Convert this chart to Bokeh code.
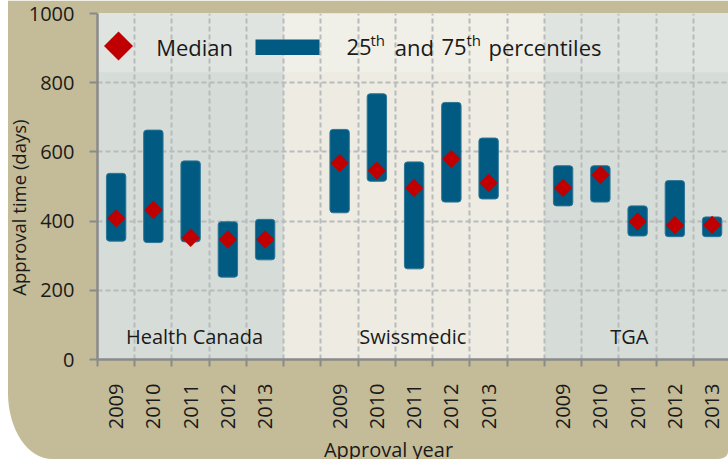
import numpy as np
from bokeh.plotting import figure
from bokeh.models import FixedTicker, BoxAnnotation, Label, Range1d, ColumnDataSource
from bokeh.embed import file_html
from bokeh.resources import INLINE

# ---------------- data ----------------
years = ["2009", "2010", "2011", "2012", "2013"]
regulators = ["Health Canada", "Swissmedic", "TGA"]

hc_median = [408, 432, 352, 347, 347]
hc_p25 = [342, 338, 340, 238, 288]
hc_p75 = [538, 663, 574, 398, 405]

sm_median = [568, 546, 496, 580, 510]
sm_p25 = [424, 515, 262, 455, 464]
sm_p75 = [665, 768, 571, 743, 640]

tga_median = [496, 533, 399, 388, 389]
tga_p25 = [444, 455, 357, 355, 355]
tga_p75 = [560, 560, 444, 517, 412]

y_ticks = [0, 200, 400, 600, 800, 1000]

# ---------------- layout ----------------
FONT = "Open Sans"
KHAKI = "#c4bc98"
BEIGE = "#eeece2"
BLUEGRAY = "#d6ddd9"
BAR = "#005a82"
RED = "#c00000"
TXT = "#1a1a1a"

group_offsets = [0, 6, 12]          # slot index of each regulator's first year
n_slots_visible = 16.94

xs, med, lo, hi = [], [], [], []
for off, m, a, b in zip(group_offsets,
                        [hc_median, sm_median, tga_median],
                        [hc_p25, sm_p25, tga_p25],
                        [hc_p75, sm_p75, tga_p75]):
    for i in range(len(years)):
        xs.append(off + i)
        med.append(m[i])
        lo.append(a[i])
        hi.append(b[i])
src = ColumnDataSource(dict(x=xs, median=med, p25=lo, p75=hi))

p = figure(width=728, height=459,
           x_range=Range1d(-0.5, -0.5 + n_slots_visible), y_range=Range1d(0, 1000),
           output_backend="svg", toolbar_location=None,
           min_border_left=97, min_border_right=0, min_border_top=13, min_border_bottom=99)
p.styles = {"clip-path": "inset(0 0 0 8px round 0 0 10px 44px / 0 0 7px 66px)"}
p.border_fill_color = KHAKI
p.background_fill_color = BEIGE
p.outline_line_color = None

# regulator background bands
band_spans = [(-0.5, 4.5, BLUEGRAY), (11.5, 30, BLUEGRAY)]
for l, r, c in band_spans:
    p.add_layout(BoxAnnotation(left=l, right=r, fill_color=c, fill_alpha=1.0,
                               line_color=None, level="image"))
# light legend band
p.add_layout(BoxAnnotation(bottom=830, fill_color="white", fill_alpha=0.22,
                           line_color=None, level="image"))

# bars and medians
p.vbar(x="x", width=0.52, bottom="p25", top="p75", source=src,
       fill_color=BAR, line_color="#2d7696", line_width=1, border_radius=3)
p.scatter(x="x", y="median", source=src, marker="square", angle=np.pi / 4,
          size=13, fill_color=RED, line_color=None)

# ---------------- axes ----------------
centers = xs
boundaries = [k - 0.5 for k in range(0, 18)]
p.xaxis.ticker = FixedTicker(ticks=centers, minor_ticks=boundaries)
p.xaxis.major_label_overrides = {x: years[i % 5] for i, x in enumerate(centers)}
p.xaxis.major_label_orientation = np.pi / 2
p.xaxis.major_tick_line_color = None
p.xaxis.major_tick_out = 0
p.xaxis.major_tick_in = 0
p.xaxis.minor_tick_out = 7
p.xaxis.minor_tick_in = 0
p.xaxis.minor_tick_line_color = "#8a8a8a"
p.xaxis.minor_tick_line_width = 2
p.xaxis.major_label_standoff = 17

p.yaxis.ticker = FixedTicker(ticks=y_ticks)
p.yaxis.major_tick_out = 8
p.yaxis.major_tick_in = 0
p.yaxis.major_tick_line_color = "#8a8a8a"
p.yaxis.major_tick_line_width = 2
p.yaxis.minor_tick_line_color = None
p.yaxis.major_label_standoff = 15

for ax in (p.xaxis, p.yaxis):
    ax.axis_line_color = "#8a8a8a"
    ax.axis_line_width = 2.5
    ax.major_label_text_font = FONT
    ax.major_label_text_font_size = "20px"
    ax.major_label_text_color = TXT

p.xgrid.grid_line_color = None
p.xgrid.minor_grid_line_color = "#b7bbbb"
p.xgrid.minor_grid_line_dash = "5 3"
p.xgrid.minor_grid_line_width = 2
p.ygrid.grid_line_color = "#b7bbbb"
p.ygrid.grid_line_dash = "5 3"
p.ygrid.grid_line_width = 2

# ---------------- texts ----------------
def mk(x, y, t, size="20px", align="left", angle=0, baseline="alphabetic"):
    return Label(x=x, y=y, text=t, text_font=FONT, text_font_size=size,
                 text_color=TXT, text_align=align, text_baseline=baseline,
                 angle=angle)

def lab(*a, **k):
    p.add_layout(mk(*a, **k))

region_label_x = [2.104, 7.964, 13.78]
for name, x in zip(regulators, region_label_x):
    lab(x, 66, name, align="center")

# axis titles placed in the side panels (not clipped to the frame)
p.add_layout(mk(-2.629, 439, "Approval time (days)", size="18.5px", align="center",
                angle=np.pi / 2), "left")
p.add_layout(mk(7.312, -261, "Approval year", size="20px", align="center"), "below")

# legend
p.scatter(x=[0.064], y=[906], marker="square", angle=np.pi / 4, size=20.5,
          fill_color=RED, line_color=None)
p.add_layout(BoxAnnotation(left=3.742, right=5.46, bottom=880, top=925,
                           fill_color=BAR, fill_alpha=1.0, line_color=None))
lab(1.076, 902, "Median", size="22px")
lab(6.185, 902, "25", size="22px")
lab(6.829, 924, "th", size="15px")
lab(7.481, 902, "and", size="22px")
lab(8.735, 902, "75", size="22px")
lab(9.406, 924, "th", size="15px")
lab(9.997, 902, "percentiles", size="22px")

open("out.html", "w").write(file_html(p, INLINE))
